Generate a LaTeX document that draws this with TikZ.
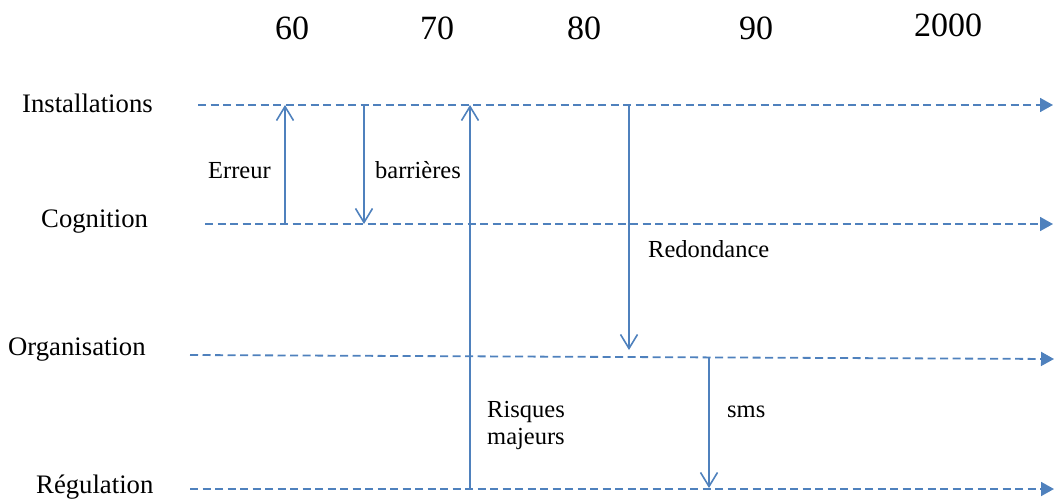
\documentclass[tikz,border=0pt]{standalone}
\usepackage{fontspec}
\setmainfont{Liberation Serif}
\usetikzlibrary{arrows.meta}
\definecolor{lineblue}{RGB}{79,129,189}
\begin{document}
\begin{tikzpicture}[x=1pt,y=-1pt,
  rowlab/.style={font=\fontsize{26.7}{30}\selectfont,inner sep=0pt,anchor=base west},
  inlab/.style={font=\fontsize{24.5}{28}\selectfont,inner sep=0pt,anchor=base west},
  yearlab/.style={font=\fontsize{34}{38}\selectfont,inner sep=0pt,anchor=base},
  timeline/.style={draw=lineblue,line width=1.8pt,dash pattern=on 8pt off 4.5pt,-{Triangle[length=13pt,width=14pt]}},
  influence/.style={draw=lineblue,line width=1.6pt,-{Straight Barb[length=14pt,width=17pt,line width=1.6pt]}}
]
\useasboundingbox (0,0) rectangle (1054,499);
% years
\node[yearlab] (y60) at (292,39) {60};
\node[yearlab] (y70) at (437,39) {70};
\node[yearlab] (y80) at (584,39) {80};
\node[yearlab] (y90) at (756,39) {90};
\node[yearlab] (y2000) at (948,36) {2000};
% row labels
\node[rowlab] (linst) at (22,112) {Installations};
\node[rowlab] (lcog) at (41,227) {Cognition};
\node[rowlab] (lorg) at (8,355) {Organisation};
\node[rowlab] (lreg) at (36,493) {Régulation};
% timelines
\coordinate (i0) at (198,105); \coordinate (i1) at (1053,105);
\coordinate (c0) at (205,224); \coordinate (c1) at (1053,224);
\coordinate (o0) at (190,355); \coordinate (o1) at (1054,359);
\coordinate (r0) at (190,489); \coordinate (r1) at (1054,489);
\draw[timeline] (i0) -- (i1);
\draw[timeline] (c0) -- (c1);
\draw[timeline] (o0) -- (o1);
\draw[timeline] (r0) -- (r1);
% vertical arrows
\coordinate (e0) at (285,224); \coordinate (e1) at (285,105);
\coordinate (b0) at (364,105); \coordinate (b1) at (364,224);
\coordinate (m0) at (470,489); \coordinate (m1) at (470,105);
\coordinate (d0) at (629,105); \coordinate (d1) at (629,350);
\coordinate (s0) at (709,357); \coordinate (s1) at (709,488);
\draw[influence] (e0) -- (e1);
\draw[influence] (b0) -- (b1);
\draw[influence] (m0) -- (m1);
\draw[influence] (d0) -- (d1);
\draw[influence] (s0) -- (s1);
% arrow labels
\node[inlab] (terr) at (208,178) {Erreur};
\node[inlab] (tbar) at (375,178) {barrières};
\node[inlab] (tred) at (648,257) {Redondance};
\node[inlab] (tris) at (487,417) {Risques};
\node[inlab] (tmaj) at (487,444) {majeurs};
\node[inlab] (tsms) at (727,417) {sms};
\end{tikzpicture}
\end{document}
